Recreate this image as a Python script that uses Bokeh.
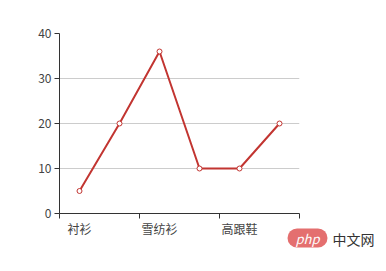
from bokeh.plotting import figure
from bokeh.models import FixedTicker, Range1d, Title
from bokeh.embed import file_html
from bokeh.resources import INLINE

categories = ["衬衫", "羊毛衫", "雪纺衫", "裤子", "高跟鞋", "袜子"]
values = [5, 20, 36, 10, 10, 20]
y_ticks = [0, 10, 20, 30, 40]

xs = [i + 0.5 for i in range(len(categories))]
shown = {i + 0.5: c for i, c in enumerate(categories) if i % 2 == 0}

p = figure(width=386, height=271, output_backend="svg", toolbar_location=None,
           x_range=Range1d(0, len(categories)), y_range=Range1d(0, 40),
           min_border_left=59, min_border_right=87, min_border_top=33, min_border_bottom=58)
p.outline_line_color = None
p.background_fill_color = "white"

font = "Noto Sans CJK SC"
p.xaxis.ticker = FixedTicker(ticks=list(shown.keys()), minor_ticks=[0, 2, 4, 6])
p.xaxis.major_label_overrides = {k: v for k, v in shown.items()}
p.xaxis.major_tick_out = 0
p.xaxis.major_tick_in = 0
p.xaxis.minor_tick_out = 5
p.xaxis.minor_tick_in = 0
p.xaxis.minor_tick_line_color = "#333333"
p.xaxis.axis_line_color = "#333333"
p.xaxis.major_label_standoff = 1
p.xaxis.major_label_text_font = font
p.xaxis.major_label_text_font_size = "12px"
p.xaxis.major_label_text_color = "#444444"

p.yaxis.ticker = FixedTicker(ticks=y_ticks)
p.yaxis.major_tick_out = 5
p.yaxis.major_tick_in = 0
p.yaxis.minor_tick_out = 0
p.yaxis.minor_tick_in = 0
p.yaxis.axis_line_color = "#333333"
p.yaxis.major_tick_line_color = "#333333"
p.yaxis.major_label_standoff = 3
p.yaxis.major_label_text_font = font
p.yaxis.major_label_text_font_size = "12px"
p.yaxis.major_label_text_color = "#444444"

p.xgrid.grid_line_color = None
p.ygrid.ticker = FixedTicker(ticks=y_ticks)
p.ygrid.grid_line_color = "#cccccc"

p.line(xs, values, line_color="#c23531", line_width=2)
p.scatter(xs, values, size=5, fill_color="white", line_color="#c23531", line_width=1)

php = Title(text="php", align="left", offset=228, standoff=-22, vertical_align="top",
            text_color="white", text_font=font, text_font_size="13px", text_font_style="italic",
            background_fill_color="#e46f6f", border_radius=10, padding=(8, 0))
cn = Title(text="中文网", align="left", offset=273, standoff=-22, vertical_align="top",
           text_color="#333333", text_font=font, text_font_size="14px", text_font_style="normal")
p.add_layout(php, "below")
p.add_layout(cn, "below")

open("out.html", "w").write(file_html(p, INLINE))
